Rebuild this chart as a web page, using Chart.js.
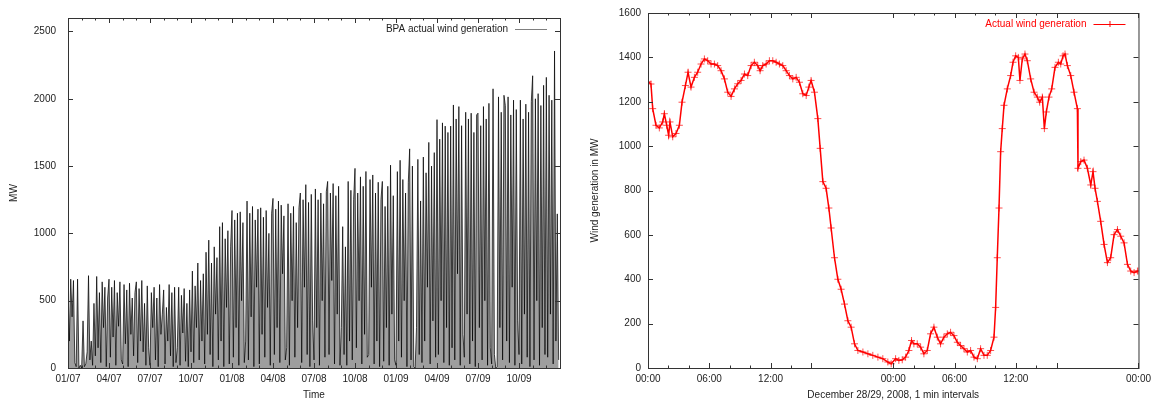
<!DOCTYPE html>
<html>
<head>
<meta charset="utf-8">
<script src="https://cdn.jsdelivr.net/npm/chart.js@4.4.1/dist/chart.umd.min.js"></script>
<style>
  html, body { margin: 0; padding: 0; background: #fff; }
  .wrap { display: flex; width: 1156px; height: 403px; }
</style>
</head>
<body>
<div class="wrap">
  <canvas id="bpaChart" width="578" height="403"></canvas>
  <canvas id="dayChart" width="578" height="403"></canvas>
</div>
<script>
// BPA wind, 2007-2009, peaks and troughs read per month (10 per month)
const bpa2007 = [
  [620, 200, 660, 380, 650, 40, 10, 660, 0, 20],
  [0, 350, 10, 30, 120, 686, 60, 200, 20, 480],
  [90, 680, 150, 560, 40, 640, 300, 600, 10, 520],
  [660, 80, 600, 230, 650, 20, 560, 310, 640, 60],
  [30, 620, 180, 580, 10, 630, 250, 520, 90, 560],
  [640, 40, 590, 200, 650, 120, 480, 20, 610, 150],
  [20, 560, 300, 600, 60, 520, 10, 620, 250, 400],
  [580, 30, 450, 200, 620, 90, 560, 10, 600, 40],
  [150, 600, 20, 540, 260, 590, 50, 480, 10, 580],
  [120, 720, 40, 610, 300, 780, 60, 650, 200, 700],
  [30, 860, 250, 950, 100, 780, 10, 900, 400, 820],
  [60, 1050, 200, 1080, 10, 960, 450, 1020, 30, 900]
];
const bpa2008 = [
  [1170, 80, 1100, 300, 1150, 20, 1160, 500, 1080, 40],
  [200, 1240, 60, 1150, 380, 1200, 10, 1100, 600, 1180],
  [30, 1190, 250, 1120, 80, 1170, 450, 1000, 20, 1150],
  [1260, 100, 1180, 300, 1240, 40, 1210, 700, 1130, 60],
  [150, 1220, 20, 1150, 500, 1200, 80, 1080, 300, 1190],
  [1300, 40, 1250, 600, 1362, 100, 1230, 10, 1290, 350],
  [60, 1330, 300, 1250, 20, 1300, 500, 1220, 80, 1310],
  [1386, 100, 1300, 650, 1370, 30, 1280, 400, 1350, 20],
  [300, 1050, 100, 900, 20, 1386, 200, 1320, 60, 1250],
  [1483, 150, 1300, 500, 1420, 30, 1350, 250, 1460, 80],
  [100, 1400, 600, 1434, 30, 1300, 200, 1380, 10, 1250],
  [1386, 50, 1200, 300, 1350, 20, 1507, 400, 1280, 60]
];
const bpa2009 = [
  [20, 1459, 200, 1543, 80, 1400, 500, 1300, 10, 1380],
  [1628, 60, 1500, 10, 0, 300, 1550, 100, 1241, 40],
  [1567, 200, 1450, 600, 1676, 30, 1500, 350, 1600, 80],
  [1845, 100, 1700, 500, 1821, 40, 1797, 300, 1750, 20],
  [1797, 150, 1954, 60, 1850, 700, 1942, 20, 1800, 250],
  [80, 1900, 400, 1850, 30, 1893, 200, 1750, 10, 1880],
  [1893, 300, 1800, 60, 1942, 500, 1850, 20, 1966, 150],
  [30, 2074, 100, 0, 10, 2014, 300, 1900, 60, 2026],
  [1950, 200, 2014, 40, 1880, 600, 1990, 20, 1920, 350],
  [100, 1990, 30, 1850, 400, 1960, 80, 1900, 10, 1980],
  [2171, 60, 2000, 500, 2038, 20, 1950, 300, 2100, 100],
  [2159, 80, 2026, 400, 1990, 30, 2355, 200, 1145, 60]
];
const quarterLabels = ['01/07', '04/07', '07/07', '10/07', '01/08', '04/08',
  '07/08', '10/08', '01/09', '04/09', '07/09', '10/09'];
const mwTicks = [0, 500, 1000, 1500, 2000, 2500];

// December 28/29, 2008 (hours from midnight Dec 28)
const dec28Hours = [0, 0.29, 0.46, 0.78, 1.11, 1.44, 1.6, 1.83, 2.02, 2.15, 2.42, 2.74, 3.07, 3.33, 3.66,
  3.92, 4.21, 4.54, 4.86, 5.19, 5.52, 5.84, 6.17, 6.5, 6.82, 7.15, 7.48, 7.8, 8.13, 8.46,
  8.78, 9.11, 9.44, 9.76, 10.09, 10.41, 10.74, 10.97, 11.23, 11.56, 11.88, 12.21, 12.54, 12.86, 13.19,
  13.52, 13.84, 14.17, 14.5, 14.82, 15.15, 15.48, 15.74, 15.96, 16.29, 16.62, 16.85, 17.11, 17.43, 17.7,
  17.92, 18.25, 18.58, 18.9, 19.23, 19.56, 19.88, 20.21, 20.54, 21.03, 21.52, 22.0, 22.5, 22.98, 23.47, 23.8];
const dec28MW = [1290, 1280, 1169, 1094, 1082, 1109, 1146, 1094, 1049, 1109, 1042, 1057, 1094, 1198, 1273,
  1333, 1266, 1310, 1333, 1370, 1393, 1385, 1370, 1370, 1363, 1340, 1303, 1243, 1224, 1258,
  1281, 1296, 1325, 1318, 1363, 1378, 1363, 1340, 1363, 1370, 1385, 1385, 1378, 1370, 1363,
  1340, 1318, 1303, 1310, 1288, 1236, 1228, 1266, 1296, 1243, 1124, 990, 840, 810, 721,
  631, 497, 400, 355, 288, 213, 184, 109, 79, 72, 64, 57, 49, 42, 27, 19];
const dec29Hours = [24.23, 24.55, 24.88, 25.21, 25.53, 25.79, 26.02, 26.35, 26.68, 27.0, 27.33, 27.65, 27.98, 28.31, 28.63,
  28.96, 29.29, 29.61, 29.94, 30.27, 30.59, 30.92, 31.25, 31.57, 31.9, 32.23, 32.55, 32.88, 33.2, 33.53,
  33.86, 34.02, 34.18, 34.35, 34.51, 34.67, 34.84, 35.16, 35.49, 35.72, 35.98, 36.24, 36.4, 36.63, 36.89,
  37.12, 37.45, 37.78, 38.1, 38.33, 38.59, 38.79, 38.98, 39.24, 39.51, 39.83, 40.16, 40.39, 40.62, 40.81,
  41.04, 41.37, 41.69, 42.02, 42.08, 42.35, 42.67, 43.0, 43.33, 43.55, 43.75, 43.98, 44.3, 44.63, 44.96,
  45.28, 45.61, 45.94, 46.26, 46.59, 46.92, 47.24, 47.57, 47.9, 48.0];
const dec29MW = [42, 34, 37, 49, 79, 124, 109, 109, 94, 64, 79, 154, 184, 139, 109,
  139, 154, 161, 146, 116, 101, 87, 72, 79, 49, 42, 87, 57, 57, 79,
  139, 273, 497, 721, 975, 1079, 1184, 1258, 1318, 1378, 1407, 1400, 1296, 1393, 1415,
  1385, 1303, 1243, 1221, 1198, 1221, 1079, 1154, 1221, 1258, 1355, 1378, 1370, 1407, 1415,
  1363, 1318, 1243, 1169, 900, 930, 937, 900, 825, 885, 810, 751, 661, 557, 475,
  497, 601, 624, 594, 564, 467, 437, 430, 437, 437];
const hourTicks = [0, 2, 4, 6, 8, 10, 12, 14, 16, 24, 26, 28, 30, 32, 34, 36, 38, 40, 48];
const hourMajor = [0, 6, 12, 16, 24, 30, 36, 40, 48];
const hourLabels = { 0: '00:00', 6: '06:00', 12: '12:00', 24: '00:00', 30: '06:00', 36: '12:00', 48: '00:00' };
const genTicks = [0, 200, 400, 600, 800, 1000, 1200, 1400, 1600];

Chart.defaults.font.family = '"Liberation Sans", Arial, sans-serif';
Chart.defaults.font.size = 10;
Chart.defaults.color = '#222';

// gnuplot style box with inward ticks and a key in the top right corner
const frame = {
  id: 'frame',
  afterDraw(chart, args, opts) {
    const { ctx, chartArea: a, scales: { x, y } } = chart;
    ctx.save();
    ctx.strokeStyle = '#333';
    ctx.lineWidth = 1;
    ctx.strokeRect(a.left + 0.5, a.top + 0.5, a.width, a.height);
    ctx.beginPath();
    x.ticks.forEach(t => {
      const px = Math.round(x.getPixelForValue(t.value)) + 0.5;
      const len = opts.majors.includes(t.value) ? 5 : 2.5;
      ctx.moveTo(px, a.bottom); ctx.lineTo(px, a.bottom - len);
      ctx.moveTo(px, a.top); ctx.lineTo(px, a.top + len);
    });
    y.ticks.forEach(t => {
      const py = Math.round(y.getPixelForValue(t.value)) + 0.5;
      ctx.moveTo(a.left, py); ctx.lineTo(a.left + 5, py);
      ctx.moveTo(a.right, py); ctx.lineTo(a.right - 5, py);
    });
    ctx.stroke();

    const ds = chart.data.datasets[0];
    const ky = a.top + 11;
    ctx.font = '10px "Liberation Sans", Arial, sans-serif';
    ctx.fillStyle = opts.keyColor;
    ctx.textAlign = 'right';
    ctx.textBaseline = 'middle';
    ctx.fillText(ds.label, a.right - 52, ky);
    ctx.strokeStyle = opts.lineColor;
    ctx.beginPath();
    ctx.moveTo(a.right - 45, ky + 0.5); ctx.lineTo(a.right - 13, ky + 0.5);
    if (opts.marker) {
      const cx = a.right - 29;
      ctx.moveTo(cx - 3, ky + 0.5); ctx.lineTo(cx + 3, ky + 0.5);
      ctx.moveTo(cx + 0.5, ky - 3); ctx.lineTo(cx + 0.5, ky + 3);
    }
    ctx.stroke();
    ctx.restore();
  }
};

let bpaPoints = [];
[bpa2007, bpa2008, bpa2009].forEach((year, yi) => {
  year.forEach((month, mi) => {
    month.forEach((v, j) => {
      bpaPoints.push({ x: yi * 12 + mi + j / month.length, y: v });
    });
  });
});

new Chart(document.getElementById('bpaChart'), {
  type: 'line',
  data: {
    datasets: [{
      label: 'BPA actual wind generation',
      data: bpaPoints,
      borderColor: 'rgba(0,0,0,0.8)',
      borderWidth: 0.9,
      backgroundColor: 'rgba(0,0,0,0.38)',
      fill: 'origin',
      pointRadius: 0,
      tension: 0,
    }],
  },
  options: {
    responsive: false,
    animation: false,
    layout: { padding: { top: 11, right: 18, left: 0, bottom: 0 } },
    plugins: {
      legend: { display: false },
      tooltip: { enabled: false },
      frame: { majors: [0, 3, 6, 9, 12, 15, 18, 21, 24, 27, 30, 33, 36], keyColor: '#222', lineColor: 'rgba(0,0,0,0.5)', marker: false },
    },
    scales: {
      x: {
        type: 'linear', min: 0, max: 36,
        grid: { display: false, drawTicks: false }, border: { display: false },
        afterBuildTicks: (s) => {
          let t = [];
          for (let m = 0; m <= 36; m++) t.push({ value: m });
          s.ticks = t;
        },
        ticks: {
          autoSkip: false, maxRotation: 0, padding: 5,
          callback: (v) => (v % 3 === 0 && v < 36 ? quarterLabels[v / 3] : ''),
        },
        title: { display: true, text: 'Time', padding: { top: 0, bottom: 2 } },
        afterFit: (s) => { s.height = 35; },
      },
      y: {
        min: 0, max: 2600,
        grid: { display: false, drawTicks: false }, border: { display: false },
        afterBuildTicks: (s) => { s.ticks = mwTicks.map(v => ({ value: v })); },
        ticks: { padding: 12, callback: (v) => String(v) },
        title: { display: true, text: 'MW', padding: { top: 8, bottom: 0 } },
        afterFit: (s) => { s.width = 68; },
      },
    },
  },
  plugins: [frame],
});

let dayPoints = dec28Hours.map((h, i) => ({ x: h, y: dec28MW[i] }))
  .concat(dec29Hours.map((h, i) => ({ x: h, y: dec29MW[i] })));

new Chart(document.getElementById('dayChart'), {
  type: 'line',
  data: {
    datasets: [{
      label: 'Actual wind generation',
      data: dayPoints,
      borderColor: '#ff0000',
      borderWidth: 1.5,
      pointStyle: 'cross',
      pointRadius: 3.5,
      pointBorderColor: 'rgba(255,0,0,0.7)',
      pointBorderWidth: 1,
      tension: 0,
    }],
  },
  options: {
    responsive: false,
    animation: false,
    layout: { padding: { top: 11, right: 16, left: 0, bottom: 0 } },
    plugins: {
      legend: { display: false },
      tooltip: { enabled: false },
      frame: { majors: hourMajor, keyColor: '#ff0000', lineColor: '#ff0000', marker: true },
    },
    scales: {
      x: {
        type: 'linear', min: 0, max: 48,
        grid: { display: false, drawTicks: false }, border: { display: false },
        afterBuildTicks: (s) => { s.ticks = hourTicks.map(v => ({ value: v })); },
        ticks: {
          autoSkip: false, maxRotation: 0, padding: 5,
          callback: (v) => hourLabels[v] || '',
        },
        title: { display: true, text: 'December 28/29, 2008, 1 min intervals', padding: { top: 0, bottom: 2 } },
        afterFit: (s) => { s.height = 35; },
      },
      y: {
        min: 0, max: 1600,
        grid: { display: false, drawTicks: false }, border: { display: false },
        afterBuildTicks: (s) => { s.ticks = genTicks.map(v => ({ value: v })); },
        ticks: { padding: 7, callback: (v) => String(v) },
        title: { display: true, text: 'Wind generation in MW', padding: { top: 11, bottom: 0 } },
        afterFit: (s) => { s.width = 70; },
      },
    },
  },
  plugins: [frame],
});
</script>
</body>
</html>
